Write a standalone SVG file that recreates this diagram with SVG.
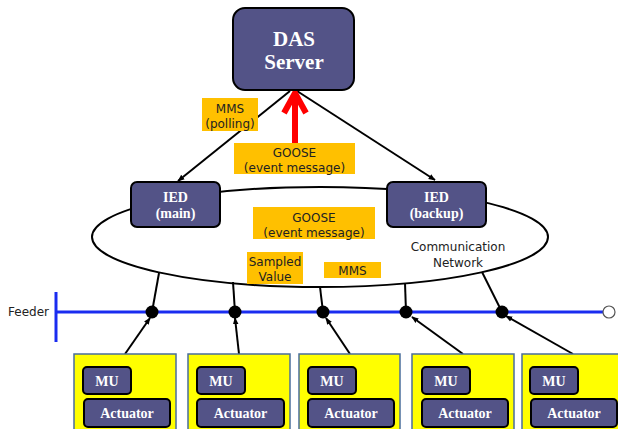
<svg xmlns="http://www.w3.org/2000/svg" width="618" height="429" viewBox="0 0 618 429">
  <defs>
    <marker id="arr" viewBox="0 0 10 10" refX="9" refY="5" markerWidth="7" markerHeight="7" orient="auto" markerUnits="userSpaceOnUse">
      <path d="M0,1 L10,5 L0,9 Z" fill="#000"/>
    </marker>
    <style>
      .node { fill: #535387; stroke: #000; stroke-width: 2; }
      .ntxt { font-family: "Liberation Serif", serif; font-weight: bold; fill: #fff; text-anchor: middle; }
      .tag { fill: #ffc000; }
      .ltxt { font-family: "DejaVu Sans", "Liberation Sans", sans-serif; font-size: 12px; fill: #222; text-anchor: middle; }
      .unit { fill: #ffff00; stroke: #4a6e9c; stroke-width: 1.5; }
      .link { stroke: #000; stroke-width: 2; fill: none; }
      .dot { fill: #000; }
    </style>
  </defs>

  <!-- communication network -->
  <ellipse id="network" cx="320" cy="237" rx="228" ry="50" fill="none" stroke="#000" stroke-width="2"/>

  <!-- feeder bus -->
  <g id="feeder">
    <text x="8" y="316" font-family="DejaVu Sans, Liberation Sans, sans-serif" font-size="12" fill="#222">Feeder</text>
    <line x1="56" y1="292" x2="56" y2="342" stroke="#1a2cf0" stroke-width="3"/>
    <line x1="56" y1="312" x2="603" y2="312" stroke="#1a2cf0" stroke-width="3"/>
    <circle cx="609" cy="312" r="6" fill="#fff" stroke="#555" stroke-width="1.2"/>
  </g>

  <!-- connectors -->
  <g id="connectors">
    <line class="link" x1="290" y1="91" x2="178" y2="181" marker-end="url(#arr)"/>
    <line class="link" x1="297" y1="91" x2="435" y2="180" marker-end="url(#arr)"/>
    <!-- network taps down to feeder -->
    <line class="link" x1="159" y1="273" x2="152" y2="312"/>
    <line class="link" x1="233" y1="282" x2="235" y2="312"/>
    <line class="link" x1="320" y1="287" x2="323" y2="312"/>
    <line class="link" x1="405" y1="283" x2="406" y2="312"/>
    <line class="link" x1="482" y1="272" x2="502" y2="312"/>
    <!-- unit uplinks -->
    <line class="link" x1="125" y1="354" x2="150" y2="318" marker-end="url(#arr)"/>
    <line class="link" x1="239" y1="354" x2="235" y2="318" marker-end="url(#arr)"/>
    <line class="link" x1="350" y1="354" x2="326" y2="318" marker-end="url(#arr)"/>
    <line class="link" x1="463" y1="354" x2="412" y2="317" marker-end="url(#arr)"/>
    <line class="link" x1="573" y1="354" x2="506" y2="316" marker-end="url(#arr)"/>
    <!-- GOOSE event path -->
    <line x1="295" y1="143" x2="295" y2="95" stroke="#ff0000" stroke-width="6"/>
    <polyline points="284,113 295,93 306,113" fill="none" stroke="#ff0000" stroke-width="6" stroke-linejoin="miter"/>
  </g>

  <g id="feeder-taps">
    <circle class="dot" cx="152" cy="312" r="6.5"/>
    <circle class="dot" cx="235" cy="312" r="6.5"/>
    <circle class="dot" cx="323" cy="312" r="6.5"/>
    <circle class="dot" cx="406" cy="312" r="6.5"/>
    <circle class="dot" cx="502" cy="312" r="6.5"/>
  </g>

  <!-- DAS server -->
  <g id="das-server">
    <rect class="node" x="233" y="8" width="121" height="82" rx="12"/>
    <text class="ntxt" x="294" y="46" font-size="21">DAS</text>
    <text class="ntxt" x="294" y="69" font-size="21">Server</text>
  </g>

  <g id="ied-main">
    <rect class="node" x="131" y="182" width="89" height="45" rx="6"/>
    <text class="ntxt" x="175.5" y="202" font-size="14">IED</text>
    <text class="ntxt" x="175.5" y="218" font-size="14">(main)</text>
  </g>

  <g id="ied-backup">
    <rect class="node" x="387" y="182" width="99" height="45" rx="6"/>
    <text class="ntxt" x="436.5" y="202" font-size="14">IED</text>
    <text class="ntxt" x="436.5" y="218" font-size="14">(backup)</text>
  </g>

  <!-- message labels -->
  <g id="label-mms-polling">
    <rect class="tag" x="202" y="98" width="56" height="33"/>
    <text class="ltxt" x="230" y="113">MMS</text>
    <text class="ltxt" x="230" y="128">(polling)</text>
  </g>
  <g id="label-goose-top">
    <rect class="tag" x="234" y="143" width="121" height="31"/>
    <text class="ltxt" x="294.5" y="157">GOOSE</text>
    <text class="ltxt" x="294.5" y="172">(event message)</text>
  </g>
  <g id="label-goose-net">
    <rect class="tag" x="253" y="207" width="122" height="32"/>
    <text class="ltxt" x="314" y="222">GOOSE</text>
    <text class="ltxt" x="314" y="237">(event message)</text>
  </g>
  <g id="label-sv">
    <rect class="tag" x="247" y="252" width="56" height="32"/>
    <text class="ltxt" x="275" y="266">Sampled</text>
    <text class="ltxt" x="275" y="281">Value</text>
  </g>
  <g id="label-mms">
    <rect class="tag" x="324" y="262" width="57" height="16"/>
    <text class="ltxt" x="352.5" y="275">MMS</text>
  </g>
  <g id="label-network">
    <text class="ltxt" x="458" y="251">Communication</text>
    <text class="ltxt" x="458" y="267">Network</text>
  </g>

  <!-- field units -->
  <g id="unit-1">
    <rect class="unit" x="74" y="354" width="102" height="80"/>
    <rect class="node" x="83" y="367" width="48" height="27" rx="4"/>
    <text class="ntxt" x="107" y="386" font-size="14">MU</text>
    <rect class="node" x="84" y="399" width="86" height="28" rx="4"/>
    <text class="ntxt" x="127" y="418" font-size="14">Actuator</text>
  </g>
  <g id="unit-2">
    <rect class="unit" x="188" y="354" width="102" height="80"/>
    <rect class="node" x="197" y="367" width="48" height="27" rx="4"/>
    <text class="ntxt" x="221" y="386" font-size="14">MU</text>
    <rect class="node" x="197" y="399" width="87" height="28" rx="4"/>
    <text class="ntxt" x="240.5" y="418" font-size="14">Actuator</text>
  </g>
  <g id="unit-3">
    <rect class="unit" x="299" y="354" width="101" height="80"/>
    <rect class="node" x="308" y="367" width="48" height="27" rx="4"/>
    <text class="ntxt" x="332" y="386" font-size="14">MU</text>
    <rect class="node" x="308" y="399" width="86" height="28" rx="4"/>
    <text class="ntxt" x="351" y="418" font-size="14">Actuator</text>
  </g>
  <g id="unit-4">
    <rect class="unit" x="412" y="354" width="102" height="80"/>
    <rect class="node" x="422" y="367" width="48" height="27" rx="4"/>
    <text class="ntxt" x="446" y="386" font-size="14">MU</text>
    <rect class="node" x="422" y="399" width="86" height="28" rx="4"/>
    <text class="ntxt" x="465" y="418" font-size="14">Actuator</text>
  </g>
  <g id="unit-5">
    <rect class="unit" x="522" y="354" width="104" height="80"/>
    <rect class="node" x="530" y="367" width="48" height="27" rx="4"/>
    <text class="ntxt" x="554" y="386" font-size="14">MU</text>
    <rect class="node" x="531" y="399" width="86" height="28" rx="4"/>
    <text class="ntxt" x="574" y="418" font-size="14">Actuator</text>
  </g>
</svg>
